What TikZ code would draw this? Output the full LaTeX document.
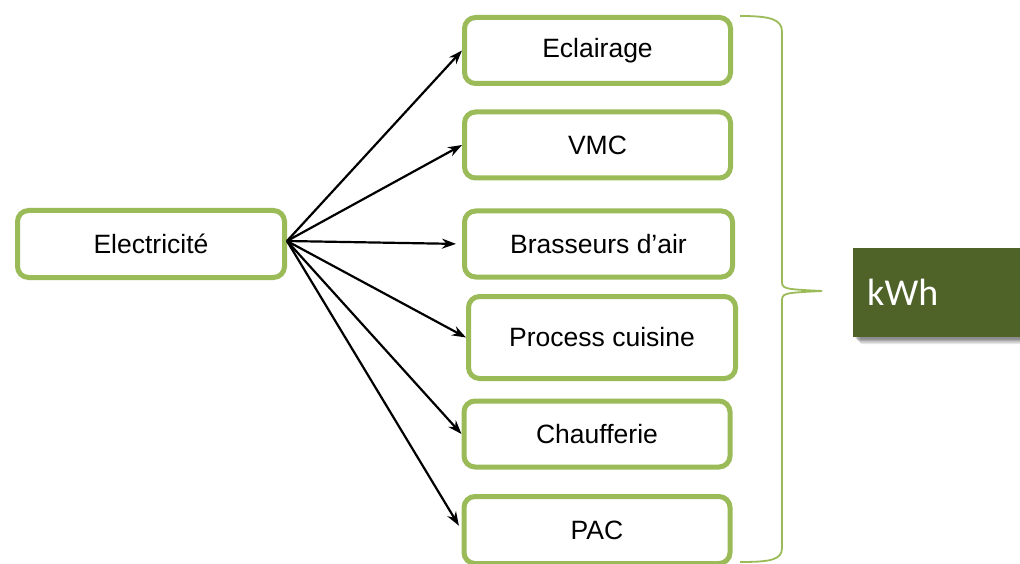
\documentclass[tikz,border=0pt]{standalone}
\usepackage{fontspec}
\setmainfont{Liberation Sans}
\newfontfamily\kwhfont{Carlito}
\usetikzlibrary{arrows.meta,shadows}
\definecolor{boxgreen}{HTML}{9BBB59}
\definecolor{darkolive}{HTML}{4F6228}
\begin{document}
\begin{tikzpicture}[x=1pt,y=-1pt,
  item/.style={draw=boxgreen,line width=5pt,rounded corners=11pt,fill=white,
    minimum width=266pt,minimum height=66pt,inner sep=0pt,
    font=\fontsize{26.5}{30}\selectfont},
  conn/.style={line width=2.2pt,-{Stealth[length=14pt,width=10pt]}}]
\useasboundingbox (0,0) rectangle (1020,564);
\clip (0,0) rectangle (1020,564);
\node[item,minimum width=267pt,minimum height=67pt] (elec) at (151,244) {Electricit\'e};
\node[item] (ecl) at (597.5,50.5) {Eclairage};
\node[item] (vmc) at (597.5,145) {VMC};
\node[item,minimum width=268pt] (bra) at (598.5,244) {Brasseurs d’air};
\node[item,minimum width=267pt,minimum height=82pt] (pro) at (602,337.5) {Process cuisine};
\node[item] (cha) at (597,434) {Chaufferie};
\node[item,minimum height=67pt] (pac) at (597,530) {PAC};
\coordinate (src) at (287,241);
\draw[conn] (src) -- (ecl.west);
\draw[conn] (src) -- (vmc.west);
\draw[conn,shorten >=6pt] (src) -- (bra.west);
\draw[conn] (src) -- (pro.west);
\draw[conn] (src) -- (cha.west);
\draw[conn,shorten >=5pt] (src) -- (pac.west);
% brace
\draw[boxgreen,line width=1.8pt]
  (740,16) .. controls (770,16) and (782,19) .. (782,32)
  -- (782,280) .. controls (782,289) .. (822,291)
  .. controls (782,293) .. (782,302)
  -- (782,548) .. controls (782,560) and (770,562) .. (740,562);
% kWh box with soft shadow
\foreach \s/\o in {7/0.10,5.5/0.12,4/0.15,2.5/0.18}{
  \fill[black,opacity=\o,rounded corners=2pt]
    (853+\s,248+\s) rectangle (1040,337+\s);
}
\node[fill=darkolive,minimum width=180pt,minimum height=89pt,anchor=north west,
  inner sep=0pt] (kwh) at (853,248) {};
\node[anchor=west,text=white,font=\kwhfont\fontsize{38}{40}\selectfont,inner sep=0pt]
  (kwht) at (867,292) {kWh};
\end{tikzpicture}
\end{document}
